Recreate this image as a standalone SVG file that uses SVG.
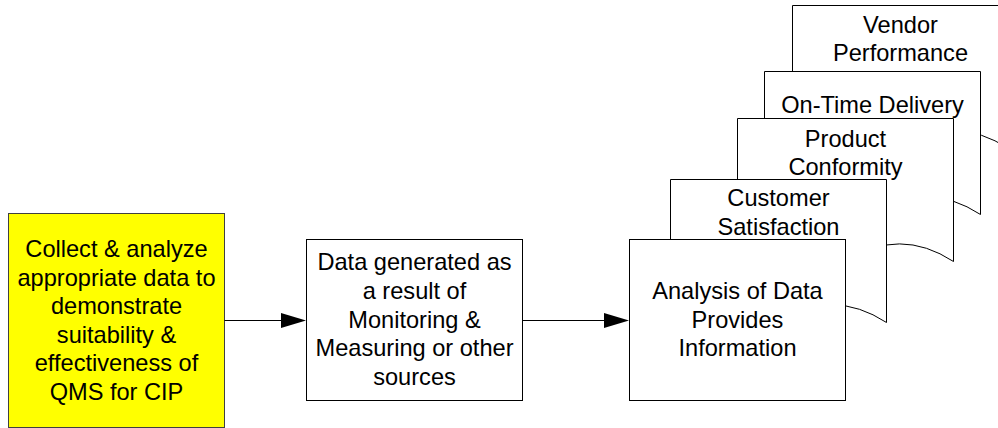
<svg xmlns="http://www.w3.org/2000/svg" width="998" height="428" viewBox="0 0 998 428">
<style>
.box{fill:#fff;stroke:#000;stroke-width:1}
.yel{fill:#ffff00;stroke:#404040;stroke-width:1}
.t{font-family:"Liberation Sans",Arial,sans-serif;font-size:23.6px;fill:#000;text-anchor:middle}
.ln{stroke:#000;stroke-width:1;fill:none}
.ah{fill:#000}
</style>
<rect width="998" height="428" fill="#fff"/>
<g id="vendor-performance">
<path class="box" d="M792.5,5.5 L1008.5,5.5 L1008.5,148.5 Q954.5,113.3 900.5,148.5 Q846.5,182.7 792.5,148.5 Z"/>
<text class="t" x="900.5" y="33">Vendor</text>
<text class="t" x="900.5" y="61">Performance</text>
</g>
<g id="on-time-delivery">
<path class="box" d="M764.5,71.5 L980.5,71.5 L980.5,214.5 Q926.5,179.3 872.5,214.5 Q818.5,248.7 764.5,214.5 Z"/>
<text class="t" x="872.5" y="113">On-Time Delivery</text>
</g>
<g id="product-conformity">
<path class="box" d="M737.5,118.5 L953.5,118.5 L953.5,261.5 Q899.5,226.3 845.5,261.5 Q791.5,295.7 737.5,261.5 Z"/>
<text class="t" x="845.5" y="146.5">Product</text>
<text class="t" x="845.5" y="175">Conformity</text>
</g>
<g id="customer-satisfaction">
<path class="box" d="M670.5,179.5 L886.5,179.5 L886.5,322.5 Q832.5,287.3 778.5,322.5 Q724.5,356.7 670.5,322.5 Z"/>
<text class="t" x="778.5" y="206">Customer</text>
<text class="t" x="778.5" y="234.5">Satisfaction</text>
</g>
<g id="analysis">
<rect class="box" x="629.5" y="239.5" width="216" height="161"/>
<text class="t" x="737.5" y="299">Analysis of Data</text>
<text class="t" x="737.5" y="327.5">Provides</text>
<text class="t" x="737.5" y="356">Information</text>
</g>
<g id="data-generated">
<rect class="box" x="306.5" y="239.5" width="216" height="161"/>
<text class="t" x="414.5" y="270.2">Data generated as</text>
<text class="t" x="414.5" y="298.9">a result of</text>
<text class="t" x="414.5" y="327.6">Monitoring &amp;</text>
<text class="t" x="414.5" y="356.3">Measuring or other</text>
<text class="t" x="414.5" y="385">sources</text>
</g>
<g id="collect-analyze">
<rect class="yel" x="8.5" y="213.5" width="216" height="214"/>
<text class="t" x="116.5" y="257.25">Collect &amp; analyze</text>
<text class="t" x="116.5" y="285.75">appropriate data to</text>
<text class="t" x="116.5" y="314.25">demonstrate</text>
<text class="t" x="116.5" y="342.75">suitability &amp;</text>
<text class="t" x="116.5" y="371.25">effectiveness of</text>
<text class="t" x="116.5" y="399.75">QMS for CIP</text>
</g>
<g id="connectors">
<line class="ln" x1="224.5" y1="320.5" x2="283" y2="320.5"/>
<polygon class="ah" points="306,320.5 281,313 281,328"/>
<line class="ln" x1="522.5" y1="320.5" x2="606" y2="320.5"/>
<polygon class="ah" points="629,320.5 604,313 604,328"/>
</g>
</svg>
